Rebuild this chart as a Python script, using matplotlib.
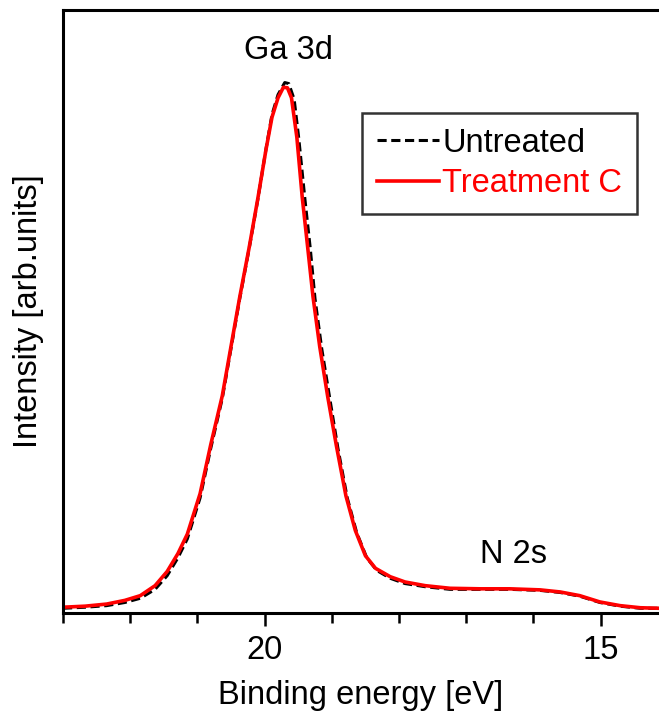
import numpy as np
import matplotlib.pyplot as plt

plt.rcParams['font.family'] = ['Liberation Sans', 'DejaVu Sans']

# binding energy (eV) and normalised intensity
energy_untreated = [23.00, 22.67, 22.35, 22.08, 21.85, 21.63, 21.45, 21.29, 21.15,
                    20.96, 20.80, 20.63, 20.50, 20.37, 20.23, 20.10, 19.98, 19.89,
                    19.80, 19.70, 19.64, 19.56, 19.49, 19.40, 19.32, 19.25, 19.15,
                    19.03, 18.91, 18.77, 18.63, 18.48, 18.33, 18.13, 17.91, 17.61,
                    17.24, 16.79, 16.35, 15.90, 15.60, 15.31, 15.01, 14.71, 14.41, 14.13]
intensity_untreated = [0.004, 0.006, 0.009, 0.015, 0.023, 0.040, 0.066, 0.100, 0.136,
                       0.214, 0.309, 0.403, 0.498, 0.593, 0.688, 0.782, 0.877, 0.943,
                       0.981, 1.004, 1.002, 0.972, 0.896, 0.782, 0.688, 0.593, 0.498,
                       0.403, 0.309, 0.214, 0.148, 0.100, 0.076, 0.061, 0.051, 0.045,
                       0.040, 0.040, 0.040, 0.038, 0.034, 0.027, 0.015, 0.008, 0.004, 0.004]

energy_treated = [23.00, 22.67, 22.35, 22.08, 21.85, 21.63, 21.45, 21.29, 21.15,
                  20.96, 20.80, 20.63, 20.50, 20.37, 20.23, 20.10, 19.98, 19.89,
                  19.80, 19.72, 19.66, 19.60, 19.52, 19.44, 19.36, 19.28, 19.18,
                  19.06, 18.93, 18.79, 18.65, 18.50, 18.35, 18.13, 17.91, 17.61,
                  17.24, 16.79, 16.35, 15.90, 15.60, 15.31, 15.01, 14.71, 14.41, 14.13]
intensity_treated = [0.006, 0.008, 0.012, 0.019, 0.028, 0.047, 0.074, 0.108, 0.145,
                     0.222, 0.316, 0.408, 0.502, 0.596, 0.690, 0.784, 0.876, 0.938,
                     0.975, 0.995, 0.994, 0.975, 0.900, 0.786, 0.692, 0.597, 0.502,
                     0.406, 0.312, 0.218, 0.152, 0.104, 0.080, 0.064, 0.054, 0.047,
                     0.042, 0.041, 0.041, 0.039, 0.035, 0.028, 0.016, 0.009, 0.005, 0.004]

fig = plt.figure(figsize=(6.59, 7.24), dpi=100)
ax = fig.add_axes([63/659, 111/724, (659-63)/659, (613-10)/724])

ax.plot(energy_untreated, intensity_untreated, color='black', linestyle=(0, (3, 1.5)),
        linewidth=2.2, label='Untreated')
ax.plot(energy_treated, intensity_treated, color='red', linewidth=2.6, label='Treatment C')

ax.set_xlim(23, 23 - (659-63)/67.2)
ax.set_ylim(-0.005, 1.142)
ax.set_xticks([20, 15])
ax.set_xticks(np.arange(15, 24, 1), minor=True)
ax.set_yticks([])
ax.tick_params(axis='x', which='major', direction='out', length=9, width=1.8,
               labelsize=23.5, pad=7)
ax.tick_params(axis='x', which='minor', direction='out', length=7, width=1.8)
for side in ['left', 'bottom', 'top']:
    ax.spines[side].set_linewidth(2.2)
ax.spines['right'].set_visible(False)

ax.set_xlabel('Binding energy [eV]', fontsize=23.5, labelpad=10)
ax.set_ylabel('Intensity [arb.units]', fontsize=23.5, labelpad=14)

ax.text(19.65, 1.065, 'Ga 3d', fontsize=23.5, ha='center', va='center')
ax.text(16.3, 0.107, 'N 2s', fontsize=23.5, ha='center', va='center')

leg = ax.legend(loc='upper right', bbox_to_anchor=(637/659, 1 - 113/724),
                bbox_transform=fig.transFigure, fontsize=23.5, handlelength=1.9,
                handletextpad=0.1, borderpad=0.45, labelspacing=0.3, fancybox=False,
                edgecolor='black', borderaxespad=0)
leg.get_frame().set_linewidth(1.8)
for text, line in zip(leg.get_texts(), leg.get_lines()):
    text.set_color(line.get_color())

fig.savefig('out.png', dpi=100)
